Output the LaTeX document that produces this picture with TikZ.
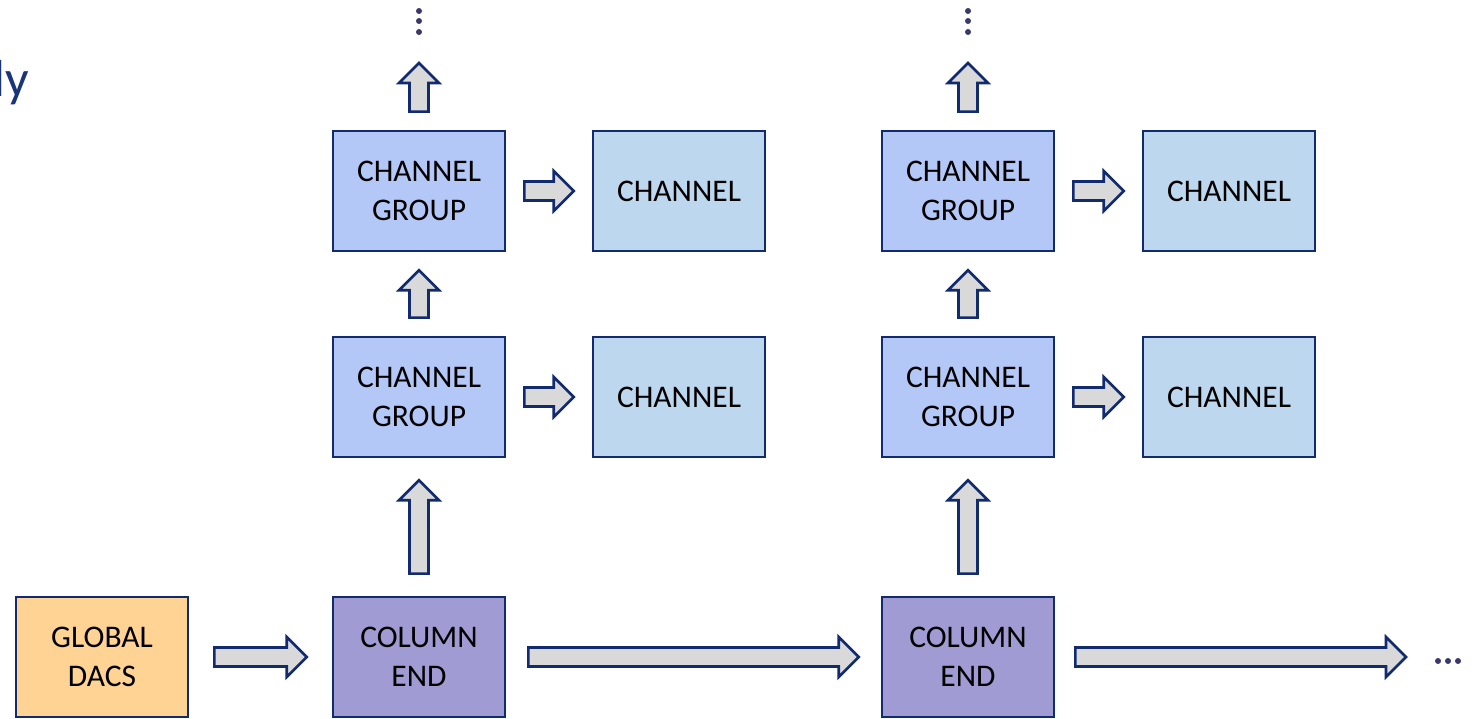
\documentclass[tikz,border=0pt]{standalone}
\usepackage{fontspec}
\setmainfont{Carlito}
\usetikzlibrary{calc}
\definecolor{navy}{HTML}{112B6E}
\definecolor{grpblue}{HTML}{B4C8F8}
\definecolor{chblue}{HTML}{BDD7EE}
\definecolor{colpurple}{HTML}{A09BD2}
\definecolor{dacorange}{HTML}{FFD393}
\definecolor{arrgray}{HTML}{D9D9D9}
\definecolor{dotgray}{HTML}{3A3A6A}
\definecolor{titleblue}{HTML}{1A3478}

% block arrows between anchors: #1 gap, #2 from, #3 to
\newcommand{\rarrow}[3][18]{%
  \draw[blockarrow] let \p1=($(#2)+(#1,0)$), \p2=($(#3)-(#1,0)$) in
    (\x1,\y1-9.5) -- (\x2-20,\y1-9.5) -- (\x2-20,\y1-20) -- (\x2,\y1)
    -- (\x2-20,\y1+20) -- (\x2-20,\y1+9.5) -- (\x1,\y1+9.5) -- cycle;}
\newcommand{\uarrow}[3][18]{%
  \draw[blockarrow] let \p1=($(#2)+(0,#1)$), \p2=($(#3)-(0,#1)$) in
    (\x1-9.5,\y1) -- (\x1-9.5,\y2-20) -- (\x1-20,\y2-20) -- (\x1,\y2)
    -- (\x1+20,\y2-20) -- (\x1+9.5,\y2-20) -- (\x1+9.5,\y1) -- cycle;}

\begin{document}
\begin{tikzpicture}[x=1pt,y=1pt,
  box/.style={draw=navy,line width=2.6pt,minimum width=172pt,minimum height=120pt,
    align=center,inner sep=0pt,font=\fontsize{31.5}{38.5}\selectfont},
  grp/.style={box,fill=grpblue},
  chan/.style={box,fill=chblue},
  colend/.style={box,fill=colpurple},
  dacs/.style={box,fill=dacorange},
  blockarrow/.style={draw=navy,fill=arrgray,line width=2.6pt,line join=miter},
  dot/.style={fill=dotgray,circle,inner sep=0pt,minimum size=6pt}]

\useasboundingbox (0,0) rectangle (1479,719);

\node[text=titleblue,font=\fontsize{52}{60}\selectfont,anchor=base east,inner sep=0pt] (title) at (29,622) {ly};

% first column
\node[grp] (g1a) at (419,528) {CHANNEL\\GROUP};
\node[chan] (c1a) at (679,528) {CHANNEL};
\node[grp] (g1b) at (419,322) {CHANNEL\\GROUP};
\node[chan] (c1b) at (679,322) {CHANNEL};
\node[colend] (e1) at (419,62) {COLUMN\\END};

% second column
\node[grp] (g2a) at (968,528) {CHANNEL\\GROUP};
\node[chan] (c2a) at (1229,528) {CHANNEL};
\node[grp] (g2b) at (968,322) {CHANNEL\\GROUP};
\node[chan] (c2b) at (1229,322) {CHANNEL};
\node[colend] (e2) at (968,62) {COLUMN\\END};

\node[dacs] (dac) at (102,62) {GLOBAL\\DACS};

\coordinate (up1) at (419,674);
\coordinate (up2) at (968,674);
\coordinate (next) at (1426,62);

\rarrow{g1a.east}{c1a.west}
\rarrow{g1b.east}{c1b.west}
\rarrow{g2a.east}{c2a.west}
\rarrow{g2b.east}{c2b.west}
\rarrow[25]{dac.east}{e1.west}
\rarrow[22]{e1.east}{e2.west}
\rarrow[20]{e2.east}{next}

\uarrow{g1b.north}{g1a.south}
\uarrow{g2b.north}{g2a.south}
\uarrow[22]{e1.north}{g1b.south}
\uarrow[22]{e2.north}{g2b.south}
\uarrow{g1a.north}{up1}
\uarrow{g2a.north}{up2}

% continuation dots
\foreach \c in {up1,up2}
  \foreach \dy in {34,24,13}
    \node[dot] at ($(\c)+(0,\dy)$) {};
\foreach \dx in {12,22,32}
  \node[dot] at ($(next)+(\dx,-4)$) {};
\end{tikzpicture}
\end{document}
